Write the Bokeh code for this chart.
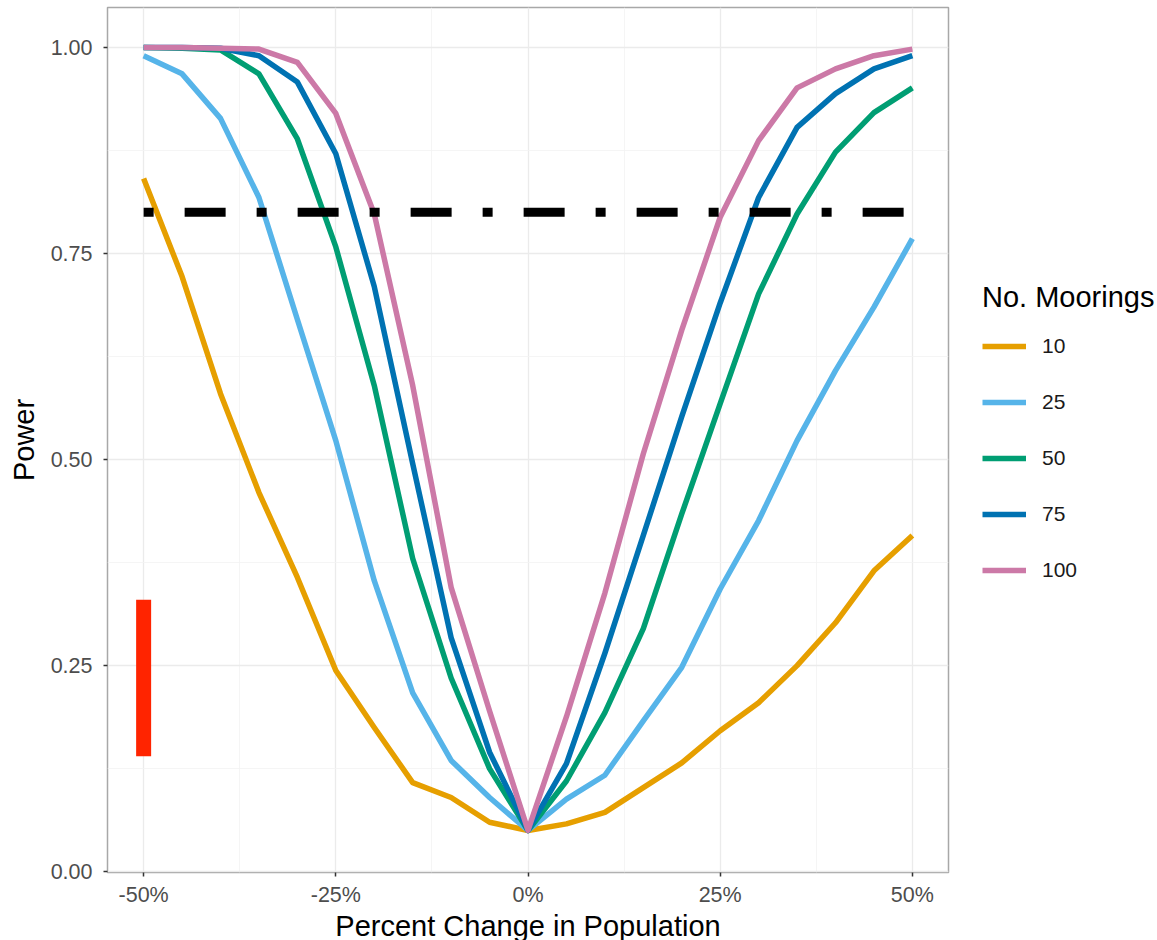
from bokeh.plotting import figure
from bokeh.models import Range1d, FixedTicker, Legend, LegendItem
from bokeh.embed import file_html
from bokeh.resources import INLINE

pct_change = [-50, -45, -40, -35, -30, -25, -20, -15, -10, -5, 0, 5, 10, 15, 20, 25, 30, 35, 40, 45, 50]

power_10 = [0.841, 0.722, 0.580, 0.460, 0.357, 0.244, 0.175, 0.108, 0.090, 0.060, 0.050,
            0.058, 0.072, 0.102, 0.132, 0.171, 0.205, 0.250, 0.302, 0.365, 0.408]
power_25 = [0.990, 0.968, 0.914, 0.818, 0.670, 0.523, 0.353, 0.217, 0.135, 0.090, 0.050,
            0.088, 0.117, 0.183, 0.248, 0.343, 0.426, 0.523, 0.608, 0.685, 0.768]
power_50 = [1.000, 0.999, 0.997, 0.968, 0.889, 0.758, 0.590, 0.380, 0.235, 0.125, 0.050,
            0.110, 0.193, 0.295, 0.434, 0.568, 0.701, 0.798, 0.873, 0.921, 0.951]
power_75 = [1.000, 1.000, 0.999, 0.990, 0.958, 0.871, 0.710, 0.495, 0.284, 0.145, 0.050,
            0.131, 0.265, 0.408, 0.552, 0.690, 0.818, 0.903, 0.944, 0.974, 0.990]
power_100 = [1.000, 1.000, 0.999, 0.998, 0.982, 0.920, 0.798, 0.590, 0.345, 0.195, 0.050,
             0.188, 0.338, 0.507, 0.657, 0.794, 0.887, 0.951, 0.974, 0.990, 0.998]

moorings = ["10", "25", "50", "75", "100"]
series = [power_10, power_25, power_50, power_75, power_100]
colors = ["#E69F00", "#56B4E9", "#009E73", "#0072B2", "#CC79A7"]

target_x = [-50, 50]
target_y = [0.8, 0.8]

bar_x = [-50]
bar_y0 = [0.14]
bar_y1 = [0.33]

x_ticks = [-50, -25, 0, 25, 50]
x_tick_labels = ["-50%", "-25%", "0%", "25%", "50%"]
x_minor = [-37.5, -12.5, 12.5, 37.5]
y_ticks = [0.0, 0.25, 0.5, 0.75, 1.0]
y_tick_labels = ["0.00", "0.25", "0.50", "0.75", "1.00"]
y_minor = [0.125, 0.375, 0.625, 0.875]

FONT = "Liberation Sans"

p = figure(frame_width=841, frame_height=865,
           x_range=Range1d(-54.7, 54.7), y_range=Range1d(-0.001, 1.0485),
           output_backend="svg", toolbar_location=None,
           min_border_top=7, min_border_left=107, min_border_bottom=0, min_border_right=200,
           background_fill_color="white", border_fill_color="white")

p.outline_line_color = "#A8A8A8"
p.outline_line_width = 1.5

# grid
p.xgrid.ticker = FixedTicker(ticks=x_ticks, minor_ticks=x_minor)
p.ygrid.ticker = FixedTicker(ticks=y_ticks, minor_ticks=y_minor)
for g in (p.xgrid, p.ygrid):
    g.grid_line_color = "#EBEBEB"
    g.grid_line_width = 1.3
    g.minor_grid_line_color = "#F3F3F3"
    g.minor_grid_line_width = 0.8

# axes
p.xaxis.ticker = FixedTicker(ticks=x_ticks)
p.yaxis.ticker = FixedTicker(ticks=y_ticks)
p.xaxis.major_label_overrides = {t: l for t, l in zip(x_ticks, x_tick_labels)}
p.yaxis.major_label_overrides = {t: l for t, l in zip(y_ticks, y_tick_labels)}
for ax in (p.xaxis, p.yaxis):
    ax.axis_line_color = None
    ax.major_tick_line_color = "#333333"
    ax.major_tick_line_width = 1.5
    ax.major_tick_out = 4
    ax.major_tick_in = 0
    ax.minor_tick_line_color = None
    ax.major_label_text_font = FONT
    ax.major_label_text_font_size = "21.5px"
    ax.major_label_text_color = "#4D4D4D"
    ax.axis_label_text_font = FONT
    ax.axis_label_text_font_size = "29px"
    ax.axis_label_text_font_style = "normal"
    ax.axis_label_text_color = "black"
p.xaxis.axis_label = "Percent Change in Population"
p.yaxis.axis_label = "Power"
p.xaxis.major_label_standoff = 6
p.xaxis.axis_label_standoff = 0
p.yaxis.major_label_standoff = 11
p.yaxis.axis_label_standoff = 8

# lines
renderers = []
for lab, ys, c in zip(moorings, series, colors):
    r = p.line(pct_change, ys, line_color=c, line_width=5.5, line_join="round")
    renderers.append(r)

# target power line
p.line(target_x, target_y, line_color="black", line_width=9, line_dash="10 31 41 31", line_cap="butt")

# red bar
p.segment(x0=bar_x, y0=bar_y0, x1=bar_x, y1=bar_y1, line_color="#FF2400", line_width=15, line_cap="butt")

legend = Legend(items=[LegendItem(label=l, renderers=[r]) for l, r in zip(moorings, renderers)],
                title="No. Moorings", location=(34, 290), orientation="vertical")
legend.title_text_font = FONT
legend.title_text_font_size = "29px"
legend.title_text_font_style = "normal"
legend.title_text_color = "black"
legend.title_standoff = 20
legend.label_text_font = FONT
legend.label_text_font_size = "21px"
legend.label_text_color = "#1A1A1A"
legend.glyph_width = 44
legend.glyph_height = 20
legend.label_height = 20
legend.label_standoff = 16
legend.spacing = 32
legend.padding = 6
legend.margin = 0
legend.border_line_color = None
legend.background_fill_alpha = 0
p.add_layout(legend, "right")

open("out.html", "w").write(file_html(p, INLINE))
